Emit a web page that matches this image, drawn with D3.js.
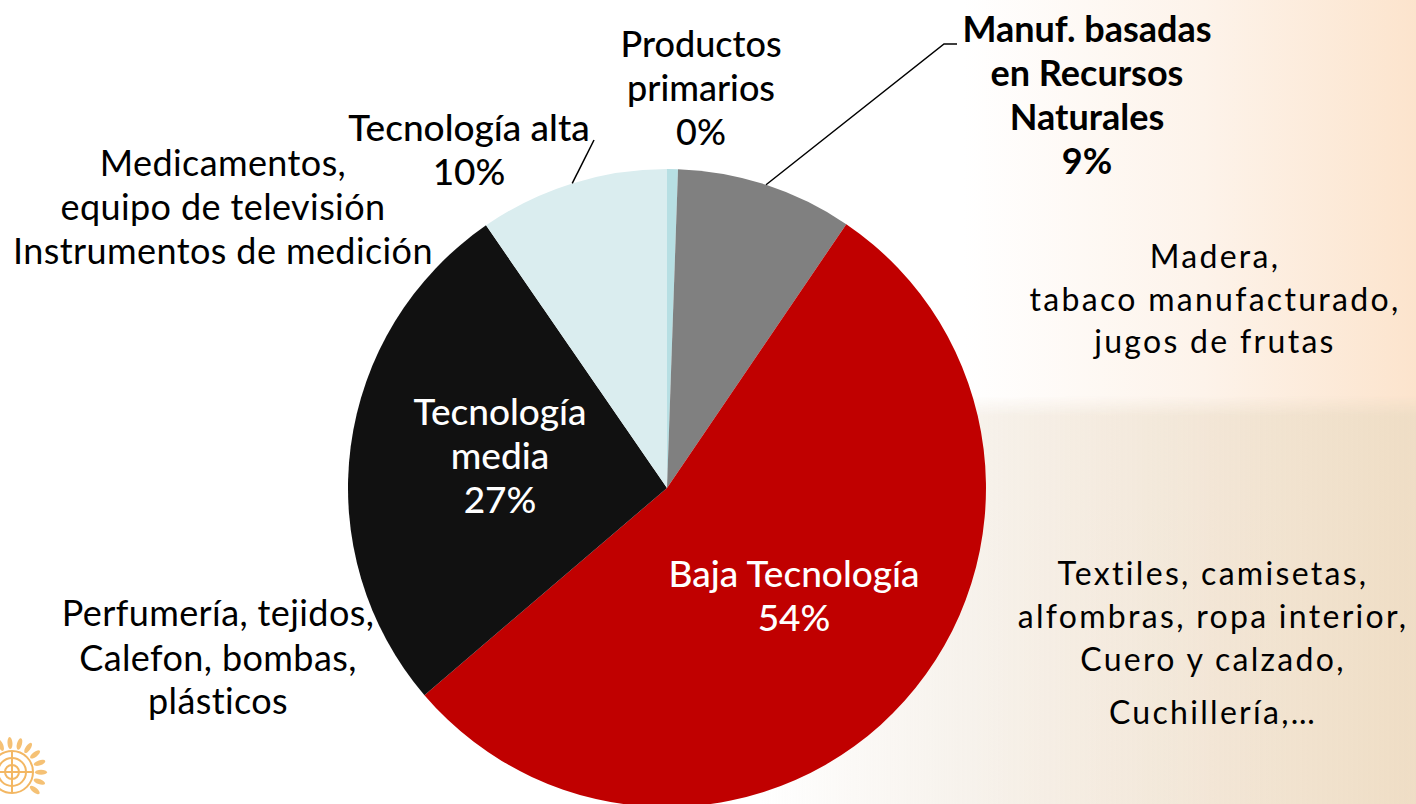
<!DOCTYPE html>
<html lang="es">
  <head>
    <meta charset="utf-8">
    <title>Exportaciones por contenido tecnológico</title>
    <style>
      body { margin: 0; background: #fff; }
      svg { display: block; font-family: Lato, "Open Sans", sans-serif; }
    </style>
  </head>
  <body>
    <div class="chart" id="container"></div>

    <script src="https://cdnjs.cloudflare.com/ajax/libs/d3/7.8.5/d3.min.js"></script>
    <script type="text/javascript">
      // data (shares in %, clockwise from 12 o'clock)
      var categories = ["Productos primarios", "Manuf. basadas en Recursos Naturales",
                        "Baja Tecnología", "Tecnología media", "Tecnología alta"];
      var shares = [0.55, 8.95, 54.25, 26.65, 9.6];
      var shareLabels = ["0%", "9%", "54%", "27%", "10%"];
      var titleLines = [["Productos", "primarios"], ["Manuf. basadas", "en Recursos", "Naturales"],
                        ["Baja Tecnología"], ["Tecnología", "media"], ["Tecnología alta"]];
      var examples = [
        [],
        ["Madera,", "tabaco manufacturado,", "jugos de frutas"],
        ["Textiles, camisetas,", "alfombras, ropa interior,", "Cuero y calzado,", "Cuchillería,…"],
        ["Perfumería, tejidos,", "Calefon, bombas,", "plásticos"],
        ["Medicamentos,", "equipo de televisión", "Instrumentos de medición"]
      ];
      var colors = ["#b7dfe3", "#808080", "#c00000", "#111111", "#daedef"];

      var width = 1416, height = 804;
      var cx = 667, cy = 488, radius = 319;

      // where the text blocks sit (first baseline, centre x)
      var labelPos = [
        {x: 701, y: 57, size: 36, fill: "#000", weight: 500, leader: false},
        {x: 1087, y: 42, size: 36, fill: "#000", weight: 700, leader: [944, 44, 957]},
        {x: 794, y: 587, size: 37, fill: "#fff", weight: 500, leader: false},
        {x: 500, y: 425, size: 37, fill: "#fff", weight: 500, leader: false},
        {x: 469, y: 141, size: 37, fill: "#000", weight: 500, leader: [594, 140]}
      ];
      var examplePos = [
        null,
        {x: 1215, y: 268, dy: [0, 43, 42]},
        {x: 1213, y: 585, dy: [0, 43, 43, 53]},
        {x: 218, y: 626, dy: [0, 45, 43]},
        {x: 223, y: 176, dy: [0, 44, 44]}
      ];

      var svg = d3.select(".chart")
        .append("svg")
          .attr("width", width)
          .attr("height", height);

      var defs = svg.append("defs");
      var bgGrad = defs.append("linearGradient").attr("id", "bg").attr("x1", 0).attr("x2", 1).attr("y1", 0).attr("y2", 0);
      bgGrad.append("stop").attr("offset", "0").attr("stop-color", "#ffffff");
      bgGrad.append("stop").attr("offset", "0.68").attr("stop-color", "#ffffff");
      bgGrad.append("stop").attr("offset", "0.85").attr("stop-color", "#fdf3ea");
      bgGrad.append("stop").attr("offset", "1").attr("stop-color", "#fce4cd");

      var lowGrad = defs.append("linearGradient").attr("id", "low").attr("x1", 0).attr("x2", 1).attr("y1", 0).attr("y2", 0);
      lowGrad.append("stop").attr("offset", "0").attr("stop-color", "#efe6da").attr("stop-opacity", 0);
      lowGrad.append("stop").attr("offset", "0.3").attr("stop-color", "#efe6da").attr("stop-opacity", 0.5);
      lowGrad.append("stop").attr("offset", "1").attr("stop-color", "#ecdcc4").attr("stop-opacity", 0.85);

      var fadeUp = defs.append("linearGradient").attr("id", "fadeUp").attr("x1", 0).attr("x2", 0).attr("y1", 0).attr("y2", 1);
      fadeUp.append("stop").attr("offset", "0").attr("stop-color", "#fff").attr("stop-opacity", 0);
      fadeUp.append("stop").attr("offset", "1").attr("stop-color", "#fff").attr("stop-opacity", 1);
      var mask = defs.append("mask").attr("id", "lowMask");
      mask.append("rect").attr("x", 0).attr("y", 396).attr("width", width).attr("height", 20).attr("fill", "url(#fadeUp)");
      mask.append("rect").attr("x", 0).attr("y", 416).attr("width", width).attr("height", height).attr("fill", "#fff");

      svg.append("rect").attr("width", width).attr("height", height).attr("fill", "url(#bg)");
      svg.append("rect").attr("x", 760).attr("y", 396).attr("width", width - 760).attr("height", height - 396)
        .attr("fill", "url(#low)").attr("mask", "url(#lowMask)");

      // faint emblem, bottom left
      var logo = svg.append("g").attr("transform", "translate(12,772)").attr("opacity", 0.75)
        .attr("fill", "none").attr("stroke", "#ef9f2f").attr("stroke-width", 2);
      [7, 14, 21].forEach(function(r) { logo.append("circle").attr("r", r); });
      logo.append("line").attr("x1", -21).attr("x2", 21);
      logo.append("line").attr("y1", -21).attr("y2", 21);
      d3.range(9).forEach(function(i) {
        var a = -0.4 + i * 0.33, lx = 29 * Math.sin(a), ly = -29 * Math.cos(a);
        logo.append("ellipse")
          .attr("cx", lx).attr("cy", ly)
          .attr("rx", 2.5).attr("ry", 6)
          .attr("fill", "#f2ad48").attr("stroke", "none")
          .attr("transform", "rotate(" + (a * 180 / Math.PI) + "," + lx + "," + ly + ")");
      });

      var pie = d3.pie().sort(null).value(function(d) { return d; });
      var arc = d3.arc().innerRadius(0).outerRadius(radius);
      var rim = d3.arc().innerRadius(radius).outerRadius(radius);

      var slices = pie(shares);

      var g = svg.append("g").attr("transform", "translate(" + cx + "," + cy + ")");
      g.selectAll(".slice").data(slices)
        .enter().append("path")
          .attr("class", "slice")
          .attr("d", arc)
          .style("fill", function(d, i) { return colors[i]; });

      // leader lines from the rim at mid-angle
      slices.forEach(function(d, i) {
        var lp = labelPos[i];
        if (!lp.leader) return;
        var p = rim.centroid(d);
        var pts = [[cx + p[0], cy + p[1]], [lp.leader[0], lp.leader[1]]];
        if (lp.leader.length > 2) pts.push([lp.leader[2], lp.leader[1]]);
        svg.append("path")
          .attr("d", d3.line()(pts))
          .attr("fill", "none")
          .attr("stroke", "#000")
          .attr("stroke-width", 1.5);
      });

      // category labels with share
      slices.forEach(function(d, i) {
        var lp = labelPos[i];
        var lines = titleLines[i].concat([shareLabels[i]]);
        var t = svg.append("text")
          .attr("x", lp.x).attr("y", lp.y)
          .attr("text-anchor", "middle")
          .style("font-size", lp.size + "px")
          .style("font-weight", lp.weight)
          .style("fill", lp.fill);
        lines.forEach(function(l, j) {
          t.append("tspan").attr("x", lp.x).attr("dy", j === 0 ? 0 : 44).text(l);
        });
      });

      // example products
      examples.forEach(function(lines, i) {
        var ep = examplePos[i];
        if (!ep) return;
        var right = ep.x > cx;
        var t = svg.append("text")
          .attr("x", ep.x).attr("y", ep.y)
          .attr("text-anchor", "middle")
          .style("font-size", right ? "32px" : "36px")
          .style("letter-spacing", right ? "2.3px" : "0.4px")
          .style("fill", "#000");
        lines.forEach(function(l, j) {
          t.append("tspan").attr("x", ep.x).attr("dy", ep.dy[j]).text(l);
        });
      });
    </script>
  </body>
</html>
